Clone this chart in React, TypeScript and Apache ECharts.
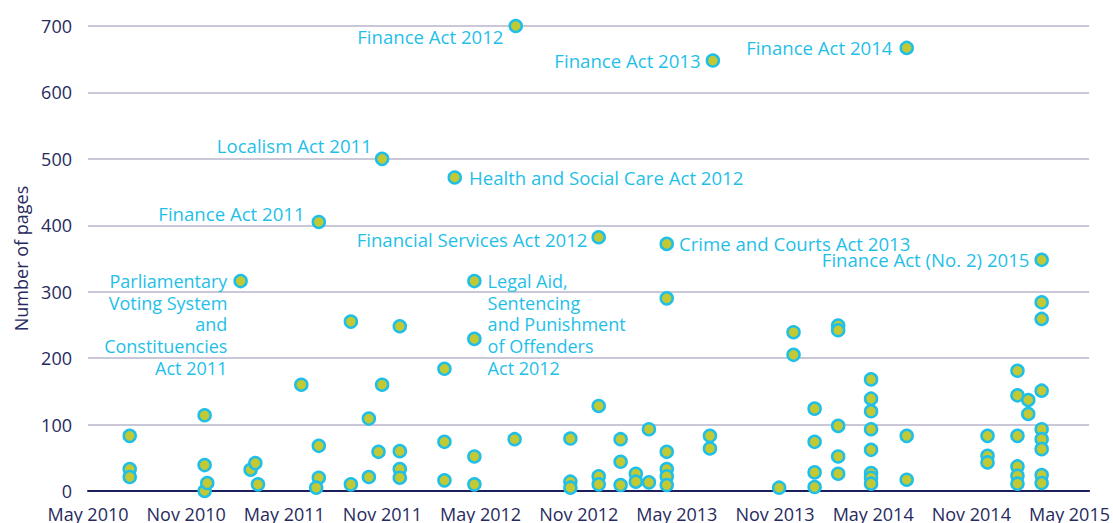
import React, { useEffect, useRef } from "react";
import * as echarts from "echarts";

// x values are months since 1 May 2010
const xTickLabels = [
  "May 2010", "Nov 2010", "May 2011", "Nov 2011", "May 2012", "Nov 2012",
  "May 2013", "Nov 2013", "May 2014", "Nov 2014", "May 2015",
];

const actMonths = [
  2.55, 2.55, 2.55,
  7.13, 7.13, 7.13, 7.29,
  9.94, 10.23, 10.39,
  13.04,
  14.11, 14.11, 13.95,
  16.07, 16.07,
  17.17, 17.17,
  17.76, 17.98,
  19.06, 19.06, 19.06, 19.06,
  21.79, 21.79, 21.79,
  23.62, 23.62, 23.62,
  26.08,
  29.49, 29.49, 29.49,
  31.22, 31.22, 31.22,
  32.56, 32.56, 32.56,
  33.49, 33.49,
  34.29, 34.29,
  35.38, 35.38, 35.38, 35.38, 35.38,
  38.02, 38.02,
  42.25,
  43.13, 43.13,
  44.42, 44.42, 44.42, 44.42,
  45.86, 45.86, 45.86, 45.86, 45.86,
  47.87, 47.87, 47.87, 47.87, 47.87, 47.87, 47.87, 47.87,
  50.05, 50.05,
  54.99, 54.99, 54.99,
  56.82, 56.82, 56.82, 56.82, 56.82, 56.82,
  57.48, 57.48,
  58.3, 58.3, 58.3, 58.3, 58.3, 58.3, 58.3, 58.3,
];

const actPages = [
  83, 33, 21,
  114, 39, 0, 12,
  32, 42, 10,
  160,
  68, 20, 5,
  255, 10,
  109, 21,
  59, 160,
  248, 60, 33, 20,
  184, 74, 16,
  229, 52, 10,
  78,
  79, 14, 5,
  128, 22, 10,
  78, 44, 9,
  26, 14,
  93, 13,
  290, 59, 33, 22, 9,
  83, 64,
  5,
  239, 205,
  124, 74, 28, 6,
  249, 242, 98, 52, 26,
  168, 139, 120, 93, 62, 27, 20, 11,
  83, 17,
  83, 53, 43,
  181, 144, 83, 37, 23, 11,
  137, 116,
  284, 259, 151, 93, 78, 63, 24, 12,
];

const namedActLabels = [
  "Parliamentary\nVoting System\nand\nConstituencies\nAct 2011",
  "Finance Act 2011",
  "Localism Act 2011",
  "Health and Social Care Act 2012",
  "Legal Aid,\nSentencing\nand Punishment\nof Offenders\nAct 2012",
  "Finance Act 2012",
  "Financial Services Act 2012",
  "Crime and Courts Act 2013",
  "Finance Act 2013",
  "Finance Act 2014",
  "Finance Act (No. 2) 2015",
];
const namedActMonths = [9.33, 14.11, 17.98, 22.42, 23.62, 26.15, 31.22, 35.38, 38.2, 50.05, 58.3];
const namedActPages = [316, 405, 500, 472, 316, 700, 382, 372, 648, 667, 348];

// label placement (style) for each named act, in the same order
const labelPlacement: { position: string; distance: number; offset: number[]; fontSize: number }[] = [
  { position: "left", distance: 6, offset: [0, 43.4], fontSize: 18 },
  { position: "left", distance: 7, offset: [0, -8], fontSize: 18.6 },
  { position: "left", distance: 3, offset: [0, -13], fontSize: 18.6 },
  { position: "right", distance: 7, offset: [0, 0], fontSize: 18.6 },
  { position: "right", distance: 6, offset: [0, 43.4], fontSize: 18 },
  { position: "left", distance: 5, offset: [0, 10], fontSize: 18.6 },
  { position: "left", distance: 4, offset: [0, 2], fontSize: 18.6 },
  { position: "right", distance: 5, offset: [0, 0], fontSize: 18.6 },
  { position: "left", distance: 5, offset: [0, 0], fontSize: 18.6 },
  { position: "left", distance: 7, offset: [0, 0], fontSize: 18.6 },
  { position: "left", distance: 5, offset: [0, 0], fontSize: 18.6 },
];

const FONT = "'Open Sans', 'Noto Sans', sans-serif";
const NAVY = "#272a5e";
const CYAN = "#1fbfe8";
const FILL = "#c2c932";

export default function App() {
  const ref = useRef<HTMLDivElement>(null);

  useEffect(() => {
    if (!ref.current) return;
    const chart = echarts.init(ref.current, undefined, { renderer: "svg" });

    const plain = actMonths.map((m, i) => ({ value: [m, actPages[i]] }));
    const named = namedActLabels.map((name, i) => ({
      name,
      value: [namedActMonths[i], namedActPages[i]],
      label: {
        show: true,
        position: labelPlacement[i].position,
        distance: labelPlacement[i].distance,
        offset: labelPlacement[i].offset,
        formatter: "{b}",
        color: CYAN,
        fontSize: labelPlacement[i].fontSize,
        fontFamily: FONT,
        lineHeight: 21.7,
      },
    }));

    chart.setOption({
      animation: false,
      backgroundColor: "#ffffff",
      grid: { left: 88, right: 23, top: 26, bottom: 32, containLabel: false },
      xAxis: {
        type: "value",
        min: 0,
        max: 61.2,
        interval: 6,
        axisLine: { show: true, lineStyle: { color: "#1d1f5c", width: 2 } },
        axisTick: { show: false },
        splitLine: { show: false },
        axisLabel: {
          color: NAVY,
          fontSize: 18,
          fontFamily: FONT,
          margin: 14,
          showMaxLabel: false,
          formatter: (v: number) => {
            const idx = Math.round(v / 6);
            return Math.abs(v - idx * 6) < 1e-6 && xTickLabels[idx] ? xTickLabels[idx] : "";
          },
        },
      },
      yAxis: {
        type: "value",
        min: 0,
        max: 700,
        interval: 100,
        name: "Number of pages",
        nameLocation: "middle",
        nameGap: 56,
        nameTextStyle: { color: NAVY, fontSize: 18, fontFamily: FONT },
        axisLine: { show: false },
        axisTick: { show: false },
        splitLine: { show: true, lineStyle: { color: "#b7b5cb", width: 1.5 } },
        axisLabel: { color: NAVY, fontSize: 18, fontFamily: FONT, margin: 16 },
      },
      series: [
        {
          type: "scatter",
          symbol: "circle",
          symbolSize: 12,
          itemStyle: { color: FILL, borderColor: CYAN, borderWidth: 2.5, opacity: 1 },
          emphasis: { disabled: true },
          data: [...plain, ...named],
          z: 3,
        },
      ],
    });

    return () => chart.dispose();
  }, []);

  return (
    <div
      ref={ref}
      style={{ position: "fixed", left: 0, top: 0, width: 1113, height: 523 }}
    />
  );
}
